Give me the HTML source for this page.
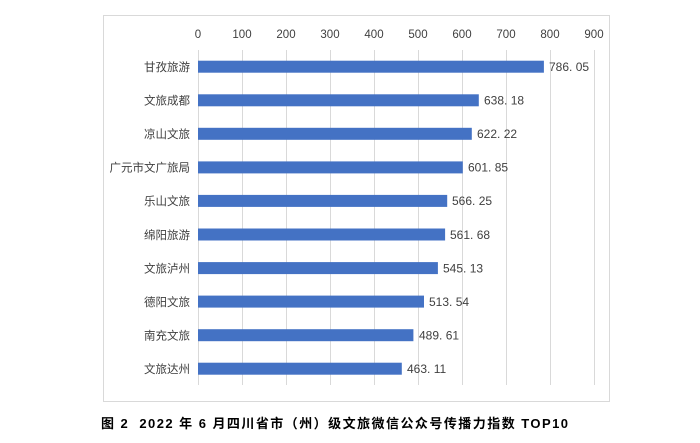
<!DOCTYPE html>
<html><head><meta charset="utf-8"><style>
body{margin:0;background:#fff;}
svg{display:block;font-family:"Liberation Sans","Noto Sans CJK SC",sans-serif;}
</style></head><body>
<svg width="700" height="443" xmlns="http://www.w3.org/2000/svg">
<rect x="103.5" y="15.5" width="506" height="386" fill="#fff" stroke="#d9d9d9"/>
<g stroke="#d9d9d9" stroke-width="1">
<line x1="198.5" y1="50" x2="198.5" y2="385"/>
<line x1="242.5" y1="50" x2="242.5" y2="385"/>
<line x1="286.5" y1="50" x2="286.5" y2="385"/>
<line x1="330.5" y1="50" x2="330.5" y2="385"/>
<line x1="374.5" y1="50" x2="374.5" y2="385"/>
<line x1="418.5" y1="50" x2="418.5" y2="385"/>
<line x1="462.5" y1="50" x2="462.5" y2="385"/>
<line x1="506.5" y1="50" x2="506.5" y2="385"/>
<line x1="550.5" y1="50" x2="550.5" y2="385"/>
<line x1="594.5" y1="50" x2="594.5" y2="385"/>
</g>
<g font-size="11.5" fill="#404040" text-anchor="middle">
<text x="198" y="38">0</text><text x="242" y="38">100</text><text x="286" y="38">200</text>
<text x="330" y="38">300</text><text x="374" y="38">400</text><text x="418" y="38">500</text>
<text x="462" y="38">600</text><text x="506" y="38">700</text><text x="550" y="38">800</text>
<text x="594" y="38">900</text>
</g>
<g fill="#4472c4">
<rect x="198" y="60.7" width="345.9" height="12"/>
<rect x="198" y="94.3" width="280.8" height="12"/>
<rect x="198" y="127.8" width="273.8" height="12"/>
<rect x="198" y="161.4" width="264.8" height="12"/>
<rect x="198" y="194.9" width="249.2" height="12"/>
<rect x="198" y="228.5" width="247.1" height="12"/>
<rect x="198" y="262.1" width="239.9" height="12"/>
<rect x="198" y="295.6" width="226.0" height="12"/>
<rect x="198" y="329.2" width="215.4" height="12"/>
<rect x="198" y="362.7" width="203.8" height="12"/>
</g>
<g font-size="11.5" fill="#404040" text-anchor="end">
<text x="190" y="71">甘孜旅游</text><text x="190" y="104.6">文旅成都</text>
<text x="190" y="138.1">凉山文旅</text><text x="190" y="171.7">广元市文广旅局</text>
<text x="190" y="205.2">乐山文旅</text><text x="190" y="238.8">绵阳旅游</text>
<text x="190" y="272.4">文旅泸州</text><text x="190" y="305.9">德阳文旅</text>
<text x="190" y="339.5">南充文旅</text><text x="190" y="373">文旅达州</text>
</g>
<g font-size="12" fill="#404040">
<text x="549" y="71">786. 05</text><text x="484" y="104.6">638. 18</text>
<text x="477" y="138.1">622. 22</text><text x="468" y="171.7">601. 85</text>
<text x="452" y="205.2">566. 25</text><text x="450" y="238.8">561. 68</text>
<text x="443" y="272.4">545. 13</text><text x="429" y="305.9">513. 54</text>
<text x="419" y="339.5">489. 61</text><text x="407" y="373">463. 11</text>
</g>
<text x="101" y="428" font-size="13" font-weight="bold" fill="#000" style="white-space:pre" xml:space="preserve" textLength="467" lengthAdjust="spacing">图 2  2022 年 6 月四川省市（州）级文旅微信公众号传播力指数 TOP10</text>
</svg>
</body></html>
